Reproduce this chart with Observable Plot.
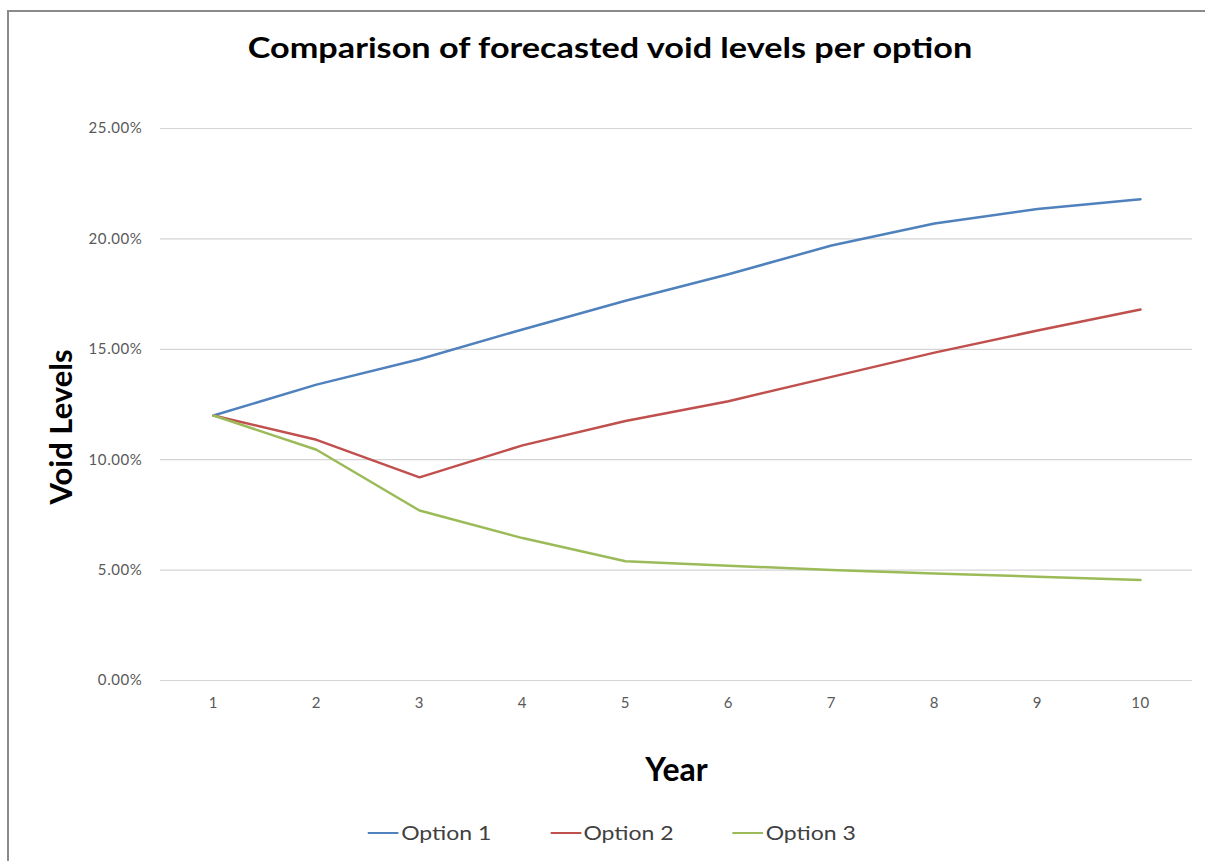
<!DOCTYPE html>
<html>
<head>
<meta charset="utf-8">
<script src="https://cdn.jsdelivr.net/npm/d3@7"></script>
<script src="https://cdn.jsdelivr.net/npm/@observablehq/plot@0.6"></script>
<style>
  html, body { margin: 0; padding: 0; background: #fff; width: 1205px; height: 861px; overflow: hidden; font-family: Lato, "Open Sans", sans-serif; }
  #frame { position: absolute; left: 7px; top: 10px; width: 1300px; height: 1000px; border-left: 2px solid #8a8a8a; border-top: 2px solid #8a8a8a; }
  #title { position: absolute; left: 0; top: 29px; width: 1220px; text-align: center; font-size: 29px; font-weight: 700; line-height: 36px; color: #000; transform: scaleX(1.18); transform-origin: 610px 50%; }
  #chart { position: absolute; left: 0; top: 90px; }
  #chart svg g[aria-label="y-axis tick label"] text,
  #chart svg g[aria-label="x-axis tick label"] text { letter-spacing: 0.6px; }
  #legend { position: absolute; left: 0; top: 820px; width: 1224px; display: flex; justify-content: center; gap: 50px; font-size: 19.5px; color: #404040; line-height: 26px; transform: scaleX(1.18); transform-origin: 612px 50%; }
  .item { display: flex; align-items: center; }
  .sw { width: 26px; height: 2.5px; margin-right: 2px; }
</style>
</head>
<body>
<div id="frame"></div>
<div id="title">Comparison of forecasted void levels per option</div>
<div id="chart"></div>
<div id="legend"></div>
<script>
const years = [1, 2, 3, 4, 5, 6, 7, 8, 9, 10];
const seriesNames = ["Option 1", "Option 2", "Option 3"];
const option1 = [12.0, 13.4, 14.55, 15.9, 17.2, 18.4, 19.7, 20.7, 21.35, 21.8];
const option2 = [12.0, 10.9, 9.2, 10.65, 11.75, 12.65, 13.75, 14.85, 15.85, 16.8];
const option3 = [12.0, 10.45, 7.7, 6.45, 5.4, 5.2, 5.0, 4.85, 4.7, 4.55];
const yTicks = [0, 5, 10, 15, 20, 25];
const colors = ["#4F81BD", "#C0504D", "#9BBB59"];

const seriesValues = [option1, option2, option3];
const data = [];
seriesNames.forEach((name, i) => {
  years.forEach((yr, j) => data.push({series: name, year: yr, value: seriesValues[i][j]}));
});

const chart = Plot.plot({
  width: 1205,
  height: 700,
  marginLeft: 160,
  marginRight: 13,
  marginTop: 38,
  marginBottom: 110,
  style: {fontFamily: "Lato, 'Open Sans', sans-serif", background: "transparent", overflow: "visible"},
  x: {type: "point", domain: years, padding: 0.5},
  y: {domain: [0, 25]},
  color: {domain: seriesNames, range: colors},
  marks: [
    Plot.gridY(yTicks, {stroke: "#d4d4d4", strokeOpacity: 1, strokeWidth: 1.2}),
    Plot.axisY(yTicks, {tickSize: 0, tickPadding: 18, fontSize: 15, fill: "#595959", label: null, tickFormat: d => d.toFixed(2) + "%"}),
    Plot.axisX(years, {tickSize: 0, tickPadding: 17, fontSize: 15, fill: "#595959", label: null}),
    Plot.line(data, {x: "year", y: "value", z: "series", stroke: "series", strokeWidth: 2.5}),
    Plot.text(["Year"], {frameAnchor: "bottom", dy: 90, fontSize: 32, fontWeight: "bold", fill: "#000", lineAnchor: "middle"}),
    Plot.text(["Void Levels"], {frameAnchor: "left", dx: -98, dy: 100, rotate: -90, fontSize: 31, fontWeight: "bold", fill: "#000", lineAnchor: "middle"})
  ]
});
document.getElementById("chart").appendChild(chart);

const legend = document.getElementById("legend");
seriesNames.forEach((name, i) => {
  const it = document.createElement("div");
  it.className = "item";
  const sw = document.createElement("div");
  sw.className = "sw";
  sw.style.background = colors[i];
  const tx = document.createElement("span");
  tx.textContent = name;
  it.appendChild(sw);
  it.appendChild(tx);
  legend.appendChild(it);
});
</script>
</body>
</html>
